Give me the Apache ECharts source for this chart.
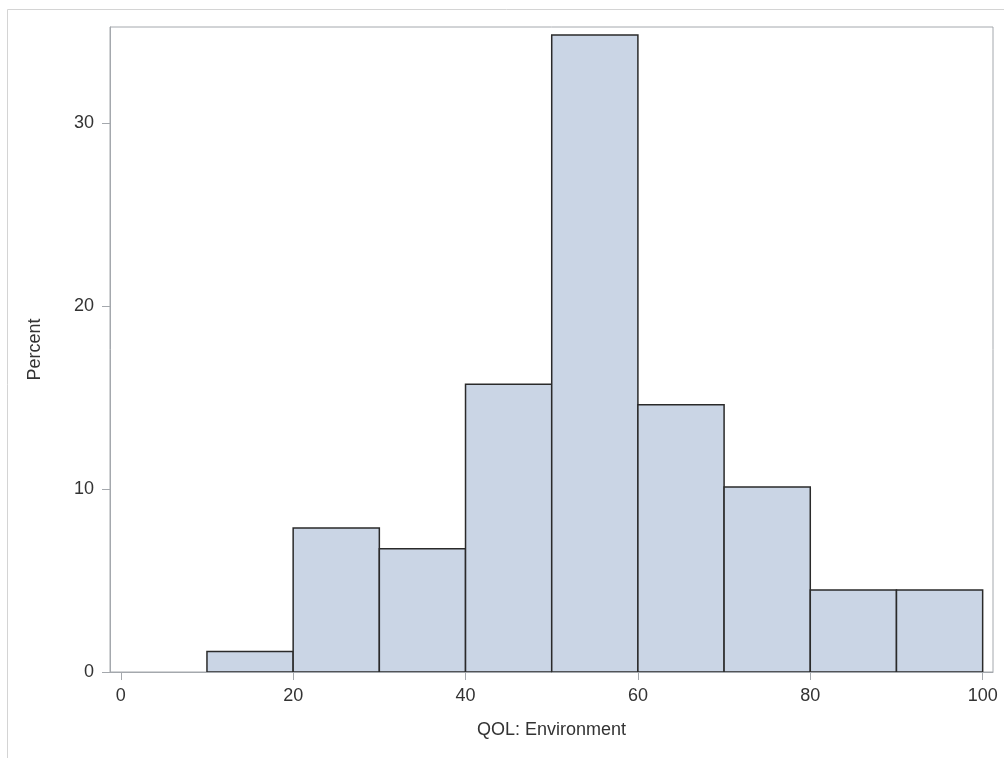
<!DOCTYPE html>
<html>
<head>
<meta charset="utf-8">
<script src="https://cdn.jsdelivr.net/npm/echarts@6/dist/echarts.min.js"></script>
<style>html,body{margin:0;padding:0;background:#fff}#c{width:1004px;height:758px}</style>
</head>
<body>
<div id="c"></div>
<script>
var binStarts = [10, 20, 30, 40, 50, 60, 70, 80, 90];
var binEnds   = [20, 30, 40, 50, 60, 70, 80, 90, 100];
var percent   = [1.12, 7.87, 6.74, 15.73, 34.83, 14.61, 10.11, 4.49, 4.49];
var xTicks = [0, 20, 40, 60, 80, 100];
var yTicks = [0, 10, 20, 30];
var xTitle = 'QOL: Environment';
var yTitle = 'Percent';

var data = binStarts.map(function (s, i) { return [s, binEnds[i], percent[i]]; });
var chart = echarts.init(document.getElementById('c'), null, {renderer: 'canvas'});
var font = 'Liberation Sans, Arial, sans-serif';
var frame = '#a4a8ad';
chart.setOption({
  animation: false,
  backgroundColor: '#fff',
  graphic: [{
    type: 'rect', silent: true, z: -10,
    shape: {x: 7.5, y: 9.5, width: 1010, height: 760},
    style: {fill: 'none', stroke: '#d4d4d4', lineWidth: 1}
  }],
  grid: {left: 110, right: 11, top: 27, bottom: 86, show: true, borderColor: frame, borderWidth: 1, containLabel: false},
  xAxis: {
    type: 'value', min: -1.25, max: 101.2, z: 5,
    name: xTitle, nameLocation: 'middle', nameGap: 49,
    nameTextStyle: {fontFamily: font, fontSize: 18, color: '#333'},
    axisLine: {show: true, onZero: false, lineStyle: {color: frame, width: 1}},
    axisTick: {show: true, length: 8, lineStyle: {color: frame}, customValues: xTicks},
    axisLabel: {fontFamily: font, fontSize: 18, color: '#333', margin: 15, customValues: xTicks},
    splitLine: {show: false}
  },
  yAxis: {
    type: 'value', min: 0, max: 35.27, z: 5,
    name: yTitle, nameLocation: 'middle', nameGap: 66, nameRotate: 90,
    nameTextStyle: {fontFamily: font, fontSize: 18, color: '#333'},
    axisLine: {show: true, onZero: false, lineStyle: {color: frame, width: 1}},
    axisTick: {show: true, length: 8, lineStyle: {color: frame}, customValues: yTicks},
    axisLabel: {fontFamily: font, fontSize: 18, color: '#333', margin: 16, customValues: yTicks},
    splitLine: {show: false}
  },
  series: [{
    type: 'custom',
    data: data,
    encode: {x: [0, 1], y: 2},
    renderItem: function (params, api) {
      var p0 = api.coord([api.value(0), api.value(2)]);
      var p1 = api.coord([api.value(1), 0]);
      return {
        type: 'rect',
        shape: {x: p0[0], y: p0[1], width: p1[0] - p0[0], height: p1[1] - p0[1]},
        style: {fill: '#cad5e5', stroke: '#2a2a2a', lineWidth: 1.5}
      };
    }
  }]
});
</script>
</body>
</html>
